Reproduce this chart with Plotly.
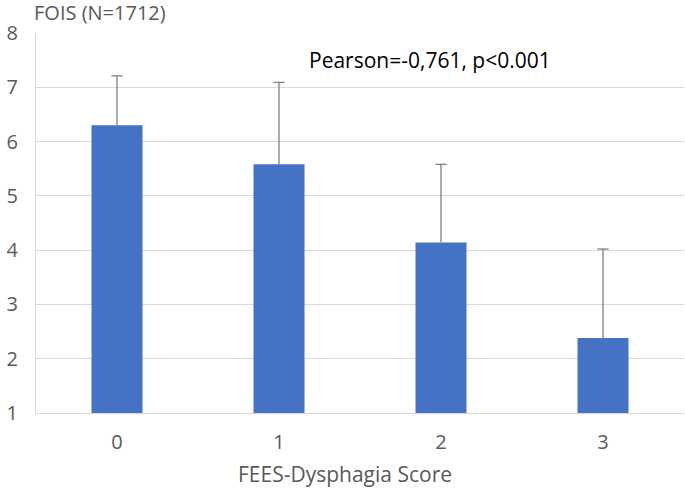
import plotly.graph_objects as go

categories = ["0", "1", "2", "3"]
means = [6.30, 5.58, 4.14, 2.38]
err_upper = [0.91, 1.51, 1.44, 1.64]
y_ticks = [1, 2, 3, 4, 5, 6, 7, 8]

font_family = "Open Sans, Noto Sans, sans-serif"
text_color = "#595959"
err_color = "#7f7f7f"

fig = go.Figure()
fig.add_trace(go.Bar(
    x=categories, y=means,
    marker=dict(color="#4472C4", line=dict(width=0)),
    hoverinfo="skip",
))

# upper-only whiskers: line from bar top to mean + error, with a cap at the top
wx, wy = [], []
for c, m, e in zip(categories, means, err_upper):
    wx += [c, c, None]
    wy += [m, m + e, None]
fig.add_trace(go.Scatter(
    x=wx, y=wy, mode="lines", line=dict(color=err_color, width=1.3),
    hoverinfo="skip",
))
fig.add_trace(go.Scatter(
    x=categories, y=[m + e for m, e in zip(means, err_upper)], mode="markers",
    marker=dict(symbol="line-ew-open", size=8, color=err_color,
                line=dict(color=err_color, width=1.3)),
    hoverinfo="skip",
))

fig.update_layout(
    width=685, height=489,
    margin=dict(l=36, r=1, t=33, b=76),
    paper_bgcolor="white", plot_bgcolor="white",
    bargap=0.685,
    showlegend=False,
    font=dict(family=font_family, color=text_color, size=20),
    xaxis=dict(showgrid=False, showline=True, linecolor="#d9d9d9", linewidth=1,
               ticks="", tickfont=dict(size=20, color=text_color), ticklabelstandoff=11),
    yaxis=dict(range=[1, 8], tickvals=y_ticks, showgrid=True, gridcolor="#d9d9d9",
               gridwidth=1, showline=True, linecolor="#d9d9d9", linewidth=1,
               zeroline=False, ticks="", tickfont=dict(size=20, color=text_color),
               ticklabelstandoff=13),
    annotations=[
        dict(text="FOIS (N=1712)", xref="paper", yref="paper", x=(32 - 36) / 648,
             y=(413 - 12.5) / 380, xanchor="left", yanchor="middle", showarrow=False,
             font=dict(size=20, color=text_color)),
        dict(text="Pearson=-0,761, p<0.001", xref="paper", yref="paper",
             x=(430 - 36) / 648, y=(413 - 60) / 380, xanchor="center", yanchor="middle",
             showarrow=False, font=dict(size=21, color="#000000")),
        dict(text="FEES-Dysphagia Score", xref="paper", yref="paper",
             x=(345 - 36) / 648, y=-(474 - 413) / 380, xanchor="center", yanchor="middle",
             showarrow=False, font=dict(size=21, color=text_color)),
    ],
)

fig.write_html("out.html", config={"displayModeBar": False},
               post_script="document.body.style.margin='0';")
